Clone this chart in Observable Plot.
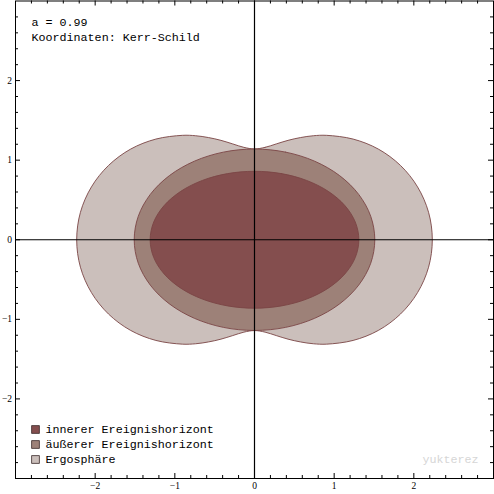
<!DOCTYPE html>
<html>
<head>
<meta charset="utf-8">
<script src="https://cdn.jsdelivr.net/npm/d3@7"></script>
<script src="https://cdn.jsdelivr.net/npm/@observablehq/plot@0.6"></script>
<style>
  html, body { margin: 0; padding: 0; background: #fff; }
  #chart { width: 494px; height: 494px; }
</style>
</head>
<body>
<div id="chart"></div>
<script>
// Parameters / labels
const titleLines = ["a = 0.99", "Koordinaten: Kerr-Schild"];
const legendLabels = ["innerer Ereignishorizont", "äußerer Ereignishorizont", "Ergosphäre"];
const legendColors = ["#844e4e", "#9d8178", "#cbbfbb"];
const watermark = "yukterez";
const majorTicks = [-2, -1, 0, 1, 2];

// Outline points of each region, first quadrant (top → right)
const ergoX  = [0, 0.133, 0.273, 0.421, 0.577, 0.739, 0.905, 1.238, 1.555, 1.832, 2.047, 2.185, 2.232];
const ergoY  = [1.141, 1.161, 1.204, 1.249, 1.284, 1.307, 1.312, 1.265, 1.139, 0.934, 0.664, 0.345, 0];
const outerX = [0, 0.391, 0.755, 1.068, 1.308, 1.459, 1.51];
const outerY = [1.14, 1.101, 0.987, 0.806, 0.57, 0.295, 0];
const innerX = [0, 0.339, 0.655, 0.926, 1.134, 1.265, 1.31];
const innerY = [0.86, 0.831, 0.745, 0.608, 0.43, 0.223, 0];

// Mirror a quadrant into a closed outline (shapes are symmetric about both axes)
function ring(qx, qy) {
  const n = qx.length, pts = [];
  for (let i = 0; i < n; i++) pts.push({x: qx[i], y: qy[i]});
  for (let i = n - 2; i >= 0; i--) pts.push({x: qx[i], y: -qy[i]});
  for (let i = 1; i < n; i++) pts.push({x: -qx[i], y: -qy[i]});
  for (let i = n - 2; i >= 1; i--) pts.push({x: -qx[i], y: qy[i]});
  return pts;
}
const ergo = ring(ergoX, ergoY);
const outer = ring(outerX, outerY);
const inner = ring(innerX, innerY);

// minor ticks every 0.2 (non-integer positions)
const minor = d3.range(-14, 15).map(d => +(d * 0.2).toFixed(1)).filter(d => Math.abs(d - Math.round(d)) > 1e-9);
const fmt = d => (d < 0 ? "\u2212" : "") + Math.abs(d);

const W = 494, H = 494;
const mL = 15, mR = 1, mT = 0.5, mB = 16;
const fh = H - mT - mB, fw = W - mL - mR;
const edge = "#7a4545";
const mono = "Liberation Mono, Courier New, monospace";
const fs = "11.7px";

function ticksX(vals, len) {
  return [
    Plot.tickX(vals, {x: d => d, stroke: "black", strokeWidth: 1, insetTop: fh - len}),
    Plot.tickX(vals, {x: d => d, stroke: "black", strokeWidth: 1, insetBottom: fh - len})
  ];
}
function ticksY(vals, len) {
  return [
    Plot.tickY(vals, {y: d => d, stroke: "black", strokeWidth: 1, insetRight: fw - len}),
    Plot.tickY(vals, {y: d => d, stroke: "black", strokeWidth: 1, insetLeft: fw - len})
  ];
}

const chart = Plot.plot({
  width: W,
  height: H,
  marginLeft: mL,
  marginRight: mR,
  marginTop: mT,
  marginBottom: mB,
  style: {fontFamily: "'Liberation Serif', serif", fontSize: "10px", background: "white", overflow: "visible"},
  x: {domain: [-3, 3], label: null},
  y: {domain: [-3, 3], label: null},
  marks: [
    Plot.line(ergo, {x: "x", y: "y", curve: "catmull-rom-closed", fill: legendColors[2], stroke: edge, strokeWidth: 0.9}),
    Plot.line(outer, {x: "x", y: "y", curve: "catmull-rom-closed", fill: legendColors[1], stroke: edge, strokeWidth: 0.9}),
    Plot.line(inner, {x: "x", y: "y", curve: "catmull-rom-closed", fill: legendColors[0], stroke: edge, strokeWidth: 0.9}),
    Plot.ruleX([0], {stroke: "black", strokeWidth: 1.2}),
    Plot.ruleY([0], {stroke: "black", strokeWidth: 1.2}),
    ...ticksX(majorTicks, 5),
    ...ticksX(minor, 3),
    ...ticksY(majorTicks, 5),
    ...ticksY(minor, 3),
    Plot.frame({stroke: "black", strokeWidth: 1}),
    Plot.axisX(majorTicks, {anchor: "bottom", tickSize: 0, tickPadding: 4, tickFormat: fmt, fontSize: 9.5, fontFamily: "'Liberation Serif', serif"}),
    Plot.axisY(majorTicks, {anchor: "left", tickSize: 0, tickPadding: 3.5, tickFormat: fmt, fontSize: 9.5, fontFamily: "'Liberation Serif', serif"}),
    // title lines
    ...titleLines.map((t, i) => Plot.text([t], {
      text: d => d, frameAnchor: "top-left", dx: 16, dy: 21.5 + i * 14.5,
      textAnchor: "start", lineAnchor: "middle", fontFamily: mono, fontSize: fs, fill: "black"
    })),
    // legend
    ...legendLabels.map((t, i) => Plot.dot([t], {
      frameAnchor: "bottom-left", dx: 20, dy: -49 + i * 15,
      symbol: "square", r: 4.4, fill: legendColors[i], stroke: "#3a2a2a", strokeWidth: 0.8
    })),
    ...legendLabels.map((t, i) => Plot.text([t], {
      text: d => d, frameAnchor: "bottom-left", dx: 30, dy: -49 + i * 15,
      textAnchor: "start", lineAnchor: "middle", fontFamily: mono, fontSize: fs, fill: "black"
    })),
    Plot.text([watermark], {
      text: d => d, frameAnchor: "bottom-right", dx: -15, dy: -19,
      textAnchor: "end", lineAnchor: "middle", fontFamily: mono, fontSize: fs, fill: "#d6d6d6"
    })
  ]
});
document.getElementById("chart").appendChild(chart);
</script>
</body>
</html>
